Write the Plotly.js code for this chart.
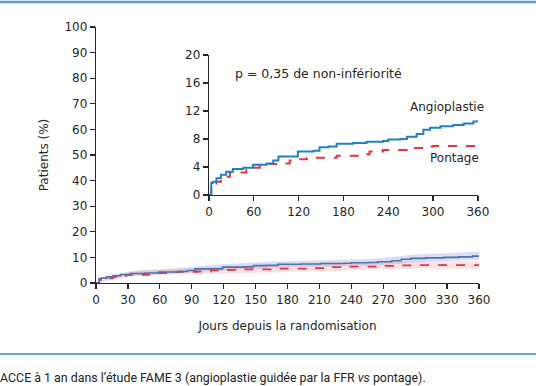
<!DOCTYPE html>
<html><head><meta charset="utf-8">
<script src="https://cdn.plot.ly/plotly-3.0.1.min.js"></script>
<style>body{margin:0;background:#fff}#c{width:536px;height:386px}</style>
</head><body><div id="c"></div>
<script>
// Kaplan-Meier style step data (days, cumulative % events)
const angioDays = [0,3,5,10,16,23,32,46,59,77,86,93,113,119,140,148,160,171,193,211,233,240,256,265,278,287,296,310,327,341,354,360];
const angioVals = [0,1.7,1.9,2.4,2.9,3.3,3.7,3.9,4.3,4.5,4.9,5.5,5.5,6.2,6.3,6.8,6.9,7.3,7.4,7.6,7.7,7.9,8.0,8.3,8.7,9.3,9.6,9.8,10.0,10.2,10.5,10.7];
const pontDays = [0,3,10,16,23,28,50,68,77,95,108,122,131,157,171,202,215,233,256,265,287,300,360];
const pontVals = [0,1.2,1.9,2.4,2.6,3.2,3.9,4.3,4.4,4.5,4.9,5.1,5.3,5.3,5.6,5.8,6.2,6.4,6.4,6.7,6.9,7.0,7.0];
// confidence bands (main panel)
const bandDays = [0,30,60,90,120,150,180,210,240,270,300,330,360];
const angioLow = [0,2.6,3.4,4.1,4.9,5.6,6.2,6.3,6.6,7.0,8.1,8.6,9.1];
const angioHigh = [0,4.4,5.2,6.3,7.3,8.0,8.6,8.8,9.2,9.8,11.1,11.6,12.3];
const pontLow = [0,2.3,3.2,3.4,3.8,4.0,4.3,4.6,5.1,5.3,5.6,5.6,5.6];
const pontHigh = [0,4.1,5.4,5.8,6.4,6.8,7.1,7.4,7.9,8.3,8.5,8.5,8.5];
const mainXTicks = [0,30,60,90,120,150,180,210,240,270,300,330,360];
const mainYTicks = [0,10,20,30,40,50,60,70,80,90,100];
const insetXTicks = [0,60,120,180,240,300,360];
const insetYTicks = [0,4,8,12,16,20];
const seriesNames = ['Angioplastie','Pontage'];

const F = '"DejaVu Sans", sans-serif';
const FC = 'Roboto, sans-serif';
const ink = '#262626';
const blueMain = '#5271ad', blueInset = '#2380c3', red = '#e3343f';

const traces = [
  {x: bandDays, y: angioLow, mode:'lines', line:{width:0, shape:'spline'}, hoverinfo:'skip', showlegend:false},
  {x: bandDays, y: angioHigh, mode:'lines', fill:'tonexty', fillcolor:'rgba(120,140,210,0.28)', line:{width:0, shape:'spline'}, hoverinfo:'skip', showlegend:false},
  {x: bandDays, y: pontLow, mode:'lines', line:{width:0, shape:'spline'}, hoverinfo:'skip', showlegend:false},
  {x: bandDays, y: pontHigh, mode:'lines', fill:'tonexty', fillcolor:'rgba(240,140,150,0.25)', line:{width:0, shape:'spline'}, hoverinfo:'skip', showlegend:false},
  {x: pontDays, y: pontVals, name: seriesNames[1], mode:'lines', line:{color:red, width:1.8, dash:'dash', shape:'hv'}},
  {x: angioDays, y: angioVals, name: seriesNames[0], mode:'lines', line:{color:blueMain, width:1.6, shape:'hv'}},
  {x: pontDays, y: pontVals, xaxis:'x2', yaxis:'y2', mode:'lines', line:{color:red, width:2, dash:'dash', shape:'hv'}},
  {x: angioDays, y: angioVals, xaxis:'x2', yaxis:'y2', mode:'lines', line:{color:blueInset, width:2, shape:'hv'}}
];

const axBase = {showgrid:false, zeroline:false, showline:true, linecolor:ink, linewidth:1.3,
  ticks:'outside', ticklen:5, tickwidth:1.3, tickcolor:ink, tickfont:{family:F, size:12, color:ink}, fixedrange:true};

const layout = {
  width:536, height:386, showlegend:false,
  margin:{l:96, r:57, t:27, b:103},
  paper_bgcolor:'#fff', plot_bgcolor:'rgba(0,0,0,0)',
  font:{family:F, color:ink},
  xaxis: Object.assign({}, axBase, {range:[0,360], tickvals:mainXTicks, domain:[0,1],
    title:{text:'Jours depuis la randomisation', font:{family:F, size:12, color:ink}, standoff:16}}),
  yaxis: Object.assign({}, axBase, {range:[0,100], tickvals:mainYTicks, domain:[0,1],
    title:{text:'Patients (%)', font:{family:F, size:12, color:ink}, standoff:13}}),
  xaxis2: Object.assign({}, axBase, {range:[0,360], tickvals:insetXTicks, domain:[0.295,0.997], anchor:'y2'}),
  yaxis2: Object.assign({}, axBase, {range:[0,20], tickvals:insetYTicks, domain:[0.344,0.891], anchor:'x2'}),
  shapes:[
    {type:'line', xref:'paper', yref:'paper', x0:-0.26, x1:1.16, y0:1.098, y1:1.098, line:{color:'#5f9fd3', width:2.5}},
    {type:'line', xref:'paper', yref:'paper', x0:-0.26, x1:1.16, y0:-0.277, y1:-0.277, line:{color:'#6aa6d6', width:2}}
  ],
  annotations:[
    {xref:'x2', yref:'y2', x:32, y:17.3, xanchor:'left', yanchor:'middle', showarrow:false,
     text:'p = 0,35 de non-infériorité', font:{family:F, size:12.5, color:ink}},
    {xref:'x2', yref:'y2', x:360, xshift:8, y:12.6, xanchor:'right', yanchor:'middle', showarrow:false,
     text:seriesNames[0], font:{family:F, size:12, color:ink}},
    {xref:'x2', yref:'y2', x:360, xshift:3, y:5.3, xanchor:'right', yanchor:'middle', showarrow:false,
     text:seriesNames[1], font:{family:F, size:12, color:ink}},
    {xref:'paper', yref:'paper', x:-0.255, y:-0.371, xanchor:'left', yanchor:'middle', showarrow:false,
     text:'ACCE à 1 an dans l’étude FAME 3 (angioplastie guidée par la FFR <i>vs</i> pontage).', font:{family:FC, size:12.4, color:'#222'}}
  ]
};
Plotly.newPlot('c', traces, layout, {staticPlot:true, displayModeBar:false});
</script></body></html>
